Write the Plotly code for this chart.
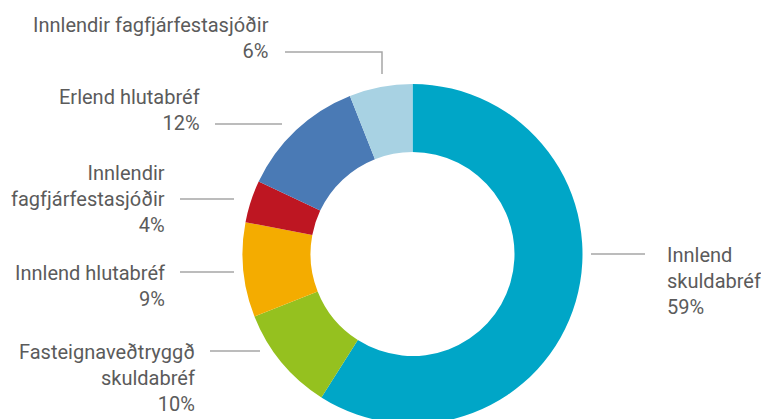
import plotly.graph_objects as go

# data, clockwise from 12 o'clock
categories = ['Innlend<br>skuldabréf', 'Fasteignaveðtryggð<br>skuldabréf', 'Innlend hlutabréf',
              'Innlendir<br>fagfjárfestasjóðir', 'Erlend hlutabréf', 'Innlendir fagfjárfestasjóðir']
shares = [59, 10, 9, 4, 12, 6]
colors = ['#00A6C7', '#95C11F', '#F4AC00', '#BE1622', '#4A7AB5', '#A8D2E3']

# the page puts the figure 8px in from the top-left corner, so the figure
# is drawn a bit bigger than the window and the donut runs off the bottom
OFF = 8
W, H = 769, 420

def px_x(x):
    return (x - OFF) / W

def px_y(y):
    return 1 - (y - OFF) / H

fig = go.Figure()

fig.add_trace(go.Pie(
    labels=categories,
    values=shares,
    marker=dict(colors=colors, line=dict(width=0)),
    hole=0.6,
    sort=False,
    direction='clockwise',
    rotation=0,
    textinfo='none',
    hoverinfo='label+percent',
    showlegend=False,
    domain=dict(x=[px_x(242.5), px_x(582.5)], y=[px_y(424), px_y(84)]),
))

# label placement (pixel): x edge, y centre, side, connector line
label_pos = [
    (665, 281, 'left', [(591, 254), (645, 254)]),
    (197, 378, 'right', [(210, 351), (260, 351)]),
    (167, 286, 'right', [(180, 272), (234, 272)]),
    (167, 199, 'right', [(180, 199), (234, 199)]),
    (202, 110, 'right', [(215, 124), (282, 124)]),
    (271, 38, 'right', [(285, 52), (382, 52), (382, 74)]),
]

for cat, val, (x, y, anchor, pts) in zip(categories, shares, label_pos):
    fig.add_annotation(
        x=px_x(x), y=px_y(y), xref='paper', yref='paper',
        text=f'{cat}<br>{val}%', showarrow=False,
        xanchor=anchor, yanchor='middle', align=anchor,
        font=dict(family='Roboto', size=20, color='#5B5B5B'),
    )
    path = 'M ' + ' L '.join(f'{px_x(a)} {px_y(b)}' for a, b in pts)
    fig.add_shape(type='path', path=path, xref='paper', yref='paper',
                  line=dict(color='#A6A6A6', width=1.5))

fig.update_layout(
    width=W, height=H,
    margin=dict(l=0, r=0, t=0, b=0),
    paper_bgcolor='white',
    plot_bgcolor='white',
)

fig.write_html("out.html")
